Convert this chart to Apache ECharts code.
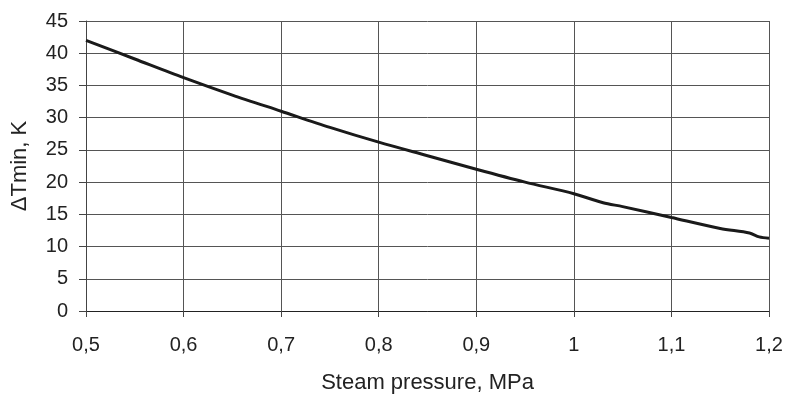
<!DOCTYPE html>
<html>
<head>
<meta charset="utf-8">
<script src="https://cdn.jsdelivr.net/npm/echarts@6/dist/echarts.min.js"></script>
<style>
  html, body { margin: 0; padding: 0; background: #fff; }
  #chart { width: 788px; height: 394px; }
</style>
</head>
<body>
<div id="chart"></div>
<script>
// steam pressure, MPa
const pressure = [0.5, 0.55, 0.6, 0.65, 0.7, 0.75, 0.8, 0.85, 0.9, 0.95, 1.0, 1.03, 1.05, 1.1, 1.15, 1.18, 1.19, 1.2];
// dT min, K
const dTmin = [42.0, 39.1, 36.2, 33.5, 31.0, 28.5, 26.2, 24.1, 22.0, 20.0, 18.2, 16.8, 16.2, 14.5, 12.8, 12.1, 11.5, 11.3];

const chart = echarts.init(document.getElementById('chart'));
const font = 'Liberation Sans, Arial, sans-serif';

const option = {
  animation: false,
  grid: { left: 86, right: 19, top: 21, bottom: 83, containLabel: false, outerBoundsMode: 'none' },
  xAxis: {
    type: 'value',
    min: 0.5,
    max: 1.2,
    interval: 0.1,
    name: 'Steam pressure, MPa',
    nameLocation: 'middle',
    nameGap: 61,
    nameTextStyle: { fontFamily: font, fontSize: 22, color: '#222' },
    axisLine: { show: true, lineStyle: { color: '#222', width: 1 } },
    axisTick: { show: true, length: 6, lineStyle: { color: '#444' } },
    axisLabel: {
      fontFamily: font, fontSize: 20, color: '#222', margin: 24,
      formatter: v => String(Math.round(v * 10) / 10).replace('.', ',')
    },
    splitLine: { show: true, lineStyle: { color: '#555', width: 1 } }
  },
  yAxis: {
    type: 'value',
    min: 0,
    max: 45,
    interval: 5,
    name: 'ΔTmin, K',
    nameLocation: 'middle',
    nameGap: 55,
    nameTextStyle: { fontFamily: font, fontSize: 22, color: '#222' },
    axisLine: { show: true, lineStyle: { color: '#444', width: 1 } },
    axisTick: { show: true, length: 7, lineStyle: { color: '#444' } },
    axisLabel: { fontFamily: font, fontSize: 20, color: '#222', margin: 18 },
    splitLine: { show: true, lineStyle: { color: '#555', width: 1 } }
  },
  series: [{
    type: 'line',
    data: pressure.map((p, i) => [p, dTmin[i]]),
    smooth: 0.3,
    symbol: 'none',
    lineStyle: { color: '#1a1a1a', width: 3 }
  }]
};
chart.setOption(option);
</script>
</body>
</html>
